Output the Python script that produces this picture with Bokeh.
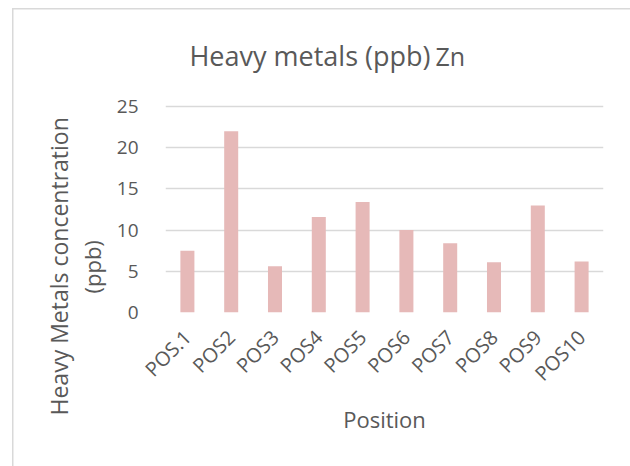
from math import pi
from bokeh.plotting import figure
from bokeh.models import Label, Range1d, FixedTicker, Title, GlobalInlineStyleSheet
from bokeh.embed import file_html
from bokeh.resources import INLINE

positions = ["POS.1", "POS2", "POS3", "POS4", "POS5", "POS6", "POS7", "POS8", "POS9", "POS10"]
zn_ppb = [7.5, 22.0, 5.6, 11.6, 13.4, 10.0, 8.4, 6.1, 13.0, 6.2]
y_ticks = [0, 5, 10, 15, 20, 25]

FONT = "Open Sans"
TXT = "#595959"
BORDER = "#D9D9D9"

# layout (page pixels)
W, H = 630, 466
F_LEFT, F_RIGHT, F_TOP, F_BOTTOM = 165, 603, 30, 312   # frame extended upward to hold the title
Y25 = 106                                               # pixel row of the 25 gridline
y_end = 25 * (F_BOTTOM - F_TOP) / (F_BOTTOM - Y25)

p = figure(x_range=positions, y_range=Range1d(0, y_end), width=W, height=H,
           output_backend="svg", toolbar_location=None,
           min_border_left=F_LEFT, min_border_right=W - F_RIGHT,
           min_border_top=F_TOP, min_border_bottom=H - F_BOTTOM)

p.vbar(x=positions, top=zn_ppb, width=0.32, fill_color="#E6B9B8", line_color=None)

p.outline_line_color = None
p.background_fill_color = "white"
p.border_fill_color = None

# chart-area border (only the top and left edges fall inside the crop)
p.styles = {
    "background": (f"linear-gradient({BORDER}, {BORDER}) 12px 8px / 1.5px calc(100% - 8px) no-repeat, "
                   f"linear-gradient({BORDER}, {BORDER}) 12px 8px / calc(100% - 12px) 1.5px no-repeat, "
                   "#ffffff"),
}
p.stylesheets = [GlobalInlineStyleSheet(css="html, body { overflow: hidden; }")]

p.xgrid.grid_line_color = None
p.ygrid.grid_line_color = BORDER
p.ygrid.grid_line_width = 1.5
p.yaxis.ticker = FixedTicker(ticks=y_ticks)

for ax in (p.xaxis, p.yaxis):
    ax.axis_line_color = None
    ax.major_tick_line_color = None
    ax.minor_tick_line_color = None
    ax.major_label_text_font = FONT
    ax.major_label_text_color = TXT
    ax.major_label_text_font_size = "19px"

p.xaxis.major_label_text_font_size = "20px"
p.xaxis.major_label_orientation = pi / 4
p.xaxis.major_label_standoff = 15
p.yaxis.major_label_standoff = 21

p.xaxis.axis_label = "Position"
p.xaxis.axis_label_text_font = FONT
p.xaxis.axis_label_text_font_style = "normal"
p.xaxis.axis_label_text_color = TXT
p.xaxis.axis_label_text_font_size = "22px"
p.xaxis.axis_label_standoff = 5

# y-axis title, two lines, as left-side titles
t_ppb = Title(text="(ppb)", align="left", offset=F_BOTTOM - 293, standoff=14,
              text_font=FONT, text_font_size="22px", text_font_style="normal",
              text_color=TXT)
t_main = Title(text="Heavy Metals concentration", align="left", offset=F_BOTTOM - 415,
               standoff=-14, text_font=FONT, text_font_size="23px",
               text_font_style="normal", text_color=TXT)
p.add_layout(t_ppb, "left")
p.add_layout(t_main, "left")

# chart title (inside the extended frame)
title_y = (F_BOTTOM - 55) / (F_BOTTOM - Y25) * 25
p.add_layout(Label(x=(430 - F_LEFT) / 43.8, y=title_y, text="Heavy metals (ppb)",
                   text_align="right", text_baseline="alphabetic", text_font=FONT,
                   text_font_size="27px", text_color=TXT))
p.add_layout(Label(x=(435 - F_LEFT) / 43.8, y=title_y, text="Zn", text_align="left",
                   text_baseline="alphabetic", text_font=FONT, text_font_size="25px",
                   text_color=TXT))

open("out.html", "w").write(file_html(p, INLINE))
